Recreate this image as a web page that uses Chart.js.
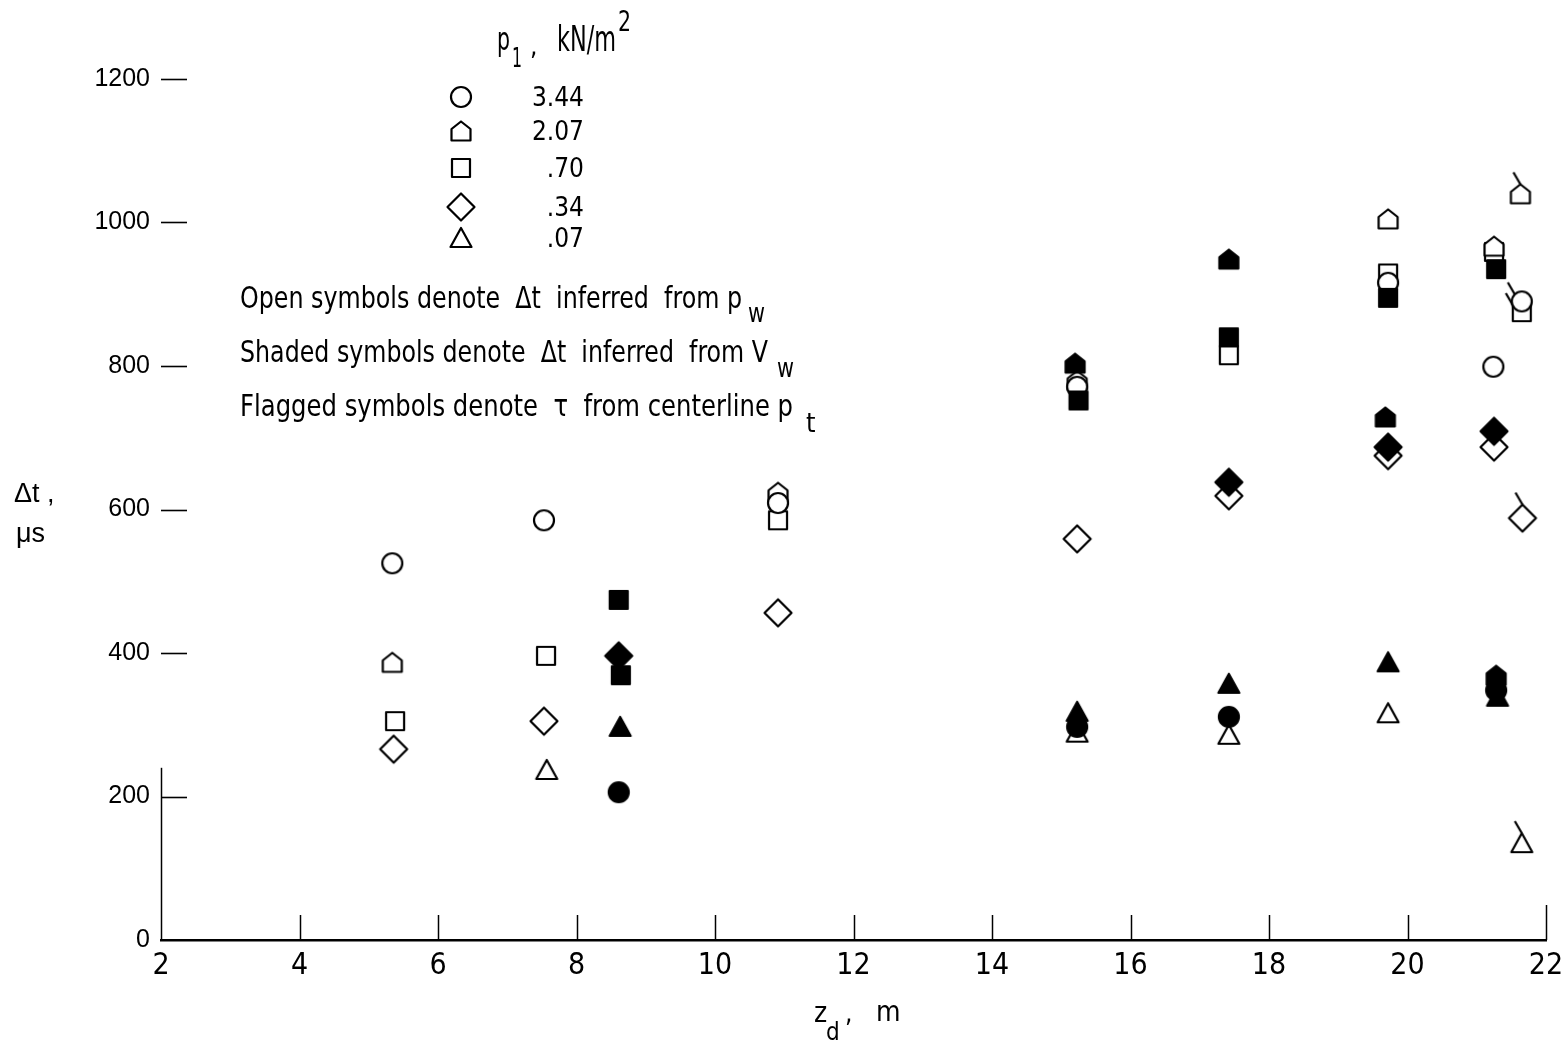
<!DOCTYPE html>
<html>
<head>
<meta charset="utf-8">
<script src="https://cdn.jsdelivr.net/npm/chart.js@4.4.0/dist/chart.umd.min.js"></script>
<style>
  html, body { margin: 0; padding: 0; background: #fff; overflow: hidden; }
  #wrap { width: 1562px; height: 1041px; position: relative; }
</style>
</head>
<body>
<div id="wrap"><canvas id="chart"></canvas></div>
<script>
// ── Data (z_d in m, Δt in μs) ────────────────────────────────────────────────
const yTicks = [0, 200, 400, 600, 800, 1000, 1200]
const xTicks = [2, 4, 6, 8, 10, 12, 14, 16, 18, 20, 22]
const pressures = ['3.44', '2.07', '.70', '.34', '.07']   // p1, kN/m²

// open symbols: Δt inferred from p_w
const openCircle   = [[5.34, 525], [7.53, 585], [10.91, 609], [15.23, 771], [19.72, 916], [21.24, 799]]
const openHouse    = [[5.34, 387], [10.91, 624], [15.23, 780], [19.72, 1005], [21.25, 967]]
const openSquare   = [[5.38, 305], [7.56, 396], [10.91, 585], [17.42, 815], [19.72, 929], [21.25, 959]]
const openDiamond  = [[5.36, 266], [7.53, 305], [10.91, 456], [15.23, 559], [17.42, 619], [19.72, 675], [21.25, 687]]
const openTriangle = [[7.57, 237], [15.23, 289], [17.42, 286], [19.72, 316]]

// shaded symbols: Δt inferred from V_w
const fillCircle   = [[8.61, 206], [15.23, 297], [17.42, 311], [21.28, 348]]
const fillHouse    = [[15.2, 804], [17.42, 949], [19.68, 729], [21.28, 369]]
const fillSquare   = [[8.61, 474], [8.64, 369], [15.25, 752], [17.42, 840], [19.72, 895], [21.28, 935]]
const fillDiamond  = [[8.61, 396], [17.42, 638], [19.72, 687], [21.25, 709]]
const fillTriangle = [[8.63, 297], [15.23, 318], [17.42, 357], [19.72, 387], [21.3, 339]]

// flagged symbols: τ from centerline p_t
const flagCircle   = [[21.65, 890]]
const flagHouse    = [[21.63, 1040]]
const flagSquare   = [[21.65, 875]]
const flagDiamond  = [[21.66, 588]]
const flagTriangle = [[21.65, 135]]

const NARROW = '"Liberation Sans Narrow", "DejaVu Sans Condensed", "Roboto Condensed", sans-serif'
const REGULAR = '"Liberation Sans", Arial, sans-serif'

// ── Symbol images ────────────────────────────────────────────────────────────

function makeSymbol(shape, filled, flagged) {
  const S = 60, c = S / 2
  const cv = document.createElement('canvas')
  cv.width = S; cv.height = S
  const g = cv.getContext('2d')
  g.lineWidth = 2.2
  g.lineJoin = 'round'
  g.strokeStyle = '#000'
  g.fillStyle = filled ? '#000' : '#fff'
  g.beginPath()
  let top
  if (shape === 'circle') {
    g.arc(c, c, 10, 0, Math.PI * 2); top = [c - 7, c - 7]
  } else if (shape === 'house') {
    g.moveTo(c - 9.5, c + 9.5); g.lineTo(c + 9.5, c + 9.5); g.lineTo(c + 9.5, c - 2)
    g.lineTo(c, c - 9.5); g.lineTo(c - 9.5, c - 2); g.closePath(); top = [c, c - 9.5]
  } else if (shape === 'square') {
    g.rect(c - 9, c - 9, 18, 18); top = [c - 9, c - 7]
  } else if (shape === 'diamond') {
    g.moveTo(c, c - 13.5); g.lineTo(c + 13.5, c); g.lineTo(c, c + 13.5); g.lineTo(c - 13.5, c)
    g.closePath(); top = [c, c - 13.5]
  } else {
    g.moveTo(c, c - 10); g.lineTo(c + 10.5, c + 9); g.lineTo(c - 10.5, c + 9); g.closePath()
    top = [c, c - 10]
  }
  g.fill()
  g.stroke()
  if (flagged) {
    g.beginPath(); g.moveTo(top[0], top[1]); g.lineTo(top[0] - 7, top[1] - 12); g.stroke()
  }
  return cv
}

function series(points, shape, filled, flagged) {
  return {
    data: points.map(([x, y]) => ({ x, y })),
    pointStyle: makeSymbol(shape, filled, flagged),
    pointRadius: 12,
    pointHoverRadius: 12,
    showLine: false,
    clip: false,
  }
}

// ── Text helpers ─────────────────────────────────────────────────────────────

// width: squeeze/stretch the run horizontally to the given width
function txt(g, s, x, y, size, opts = {}) {
  g.font = `${size}px ${opts.family || NARROW}`
  g.textAlign = opts.align || 'left'
  g.textBaseline = 'alphabetic'
  g.fillStyle = '#000'
  if (opts.width) {
    const w = g.measureText(s).width
    g.save(); g.translate(x, y); g.scale(opts.width / w, 1); g.fillText(s, 0, 0); g.restore()
  } else {
    g.fillText(s, x, y)
  }
}

const legendSymbols = ['circle', 'house', 'square', 'diamond', 'triangle'].map(s => makeSymbol(s, false, false))

const decor = {
  id: 'decor',
  afterDraw(chart) {
    const g = chart.ctx
    const xs = chart.scales.x, ys = chart.scales.y
    const left = chart.chartArea.left, bottom = chart.chartArea.bottom
    g.save()
    g.strokeStyle = '#000'

    // y tick dashes, drawn inside to the right of the axis
    g.lineWidth = 1.6
    for (const v of yTicks) {
      if (v === 0) continue
      const y = Math.round(ys.getPixelForValue(v)) + 0.5
      g.beginPath(); g.moveTo(left, y); g.lineTo(left + 26, y); g.stroke()
    }
    // short stub of the y axis line near the origin
    g.lineWidth = 1.5
    g.beginPath(); g.moveTo(left + 0.5, ys.getPixelForValue(0)); g.lineTo(left + 0.5, ys.getPixelForValue(240)); g.stroke()

    // x tick marks pointing up
    for (const v of xTicks) {
      if (v === 2) continue
      const x = Math.round(xs.getPixelForValue(v)) + 0.5
      const len = v === 22 ? 35 : 25
      g.beginPath(); g.moveTo(x, bottom); g.lineTo(x, bottom - len); g.stroke()
    }

    // legend header: p1, kN/m²
    txt(g, 'p', 497, 50, 32, { width: 13 })
    txt(g, '1', 512, 67, 27, { width: 10 })
    txt(g, ',', 530, 55, 26)
    txt(g, 'kN/m', 557, 51, 35, { width: 59 })
    txt(g, '2', 618, 31, 28, { width: 13 })

    // legend rows
    const rowY = [97, 131, 168, 207, 238]
    pressures.forEach((p, i) => {
      const sym = legendSymbols[i]
      g.drawImage(sym, 461 - sym.width / 2, rowY[i] - sym.height / 2)
      txt(g, p, 584, rowY[i] + 9, 26, { align: 'right' })
    })

    // notes
    txt(g, 'Open symbols denote  \u0394t  inferred  from p', 240, 308, 30, { width: 502 })
    txt(g, 'w', 748, 322, 27, { width: 17 })
    txt(g, 'Shaded symbols denote  \u0394t  inferred  from V', 240, 362, 30, { width: 528 })
    txt(g, 'w', 777, 377, 27, { width: 17 })
    txt(g, 'Flagged symbols denote  \u03c4  from centerline p', 240, 416, 30, { width: 553 })
    txt(g, 't', 806, 432, 27)

    // y axis title
    txt(g, '\u0394t ,', 14, 502, 27, { family: REGULAR })
    txt(g, '\u03bcs', 16, 542, 27, { family: REGULAR })

    // x axis title
    txt(g, 'z', 814, 1022, 28)
    txt(g, 'd', 826, 1040, 24)
    txt(g, ',', 845, 1022, 26)
    txt(g, 'm', 876, 1021, 28)

    g.restore()
  },
}

// ── Chart ────────────────────────────────────────────────────────────────────

new Chart(document.getElementById('chart'), {
  type: 'scatter',
  data: {
    datasets: [
      // first dataset is drawn on top, so shaded symbols go first
      series(fillCircle, 'circle', true, false),
      series(fillHouse, 'house', true, false),
      series(fillSquare, 'square', true, false),
      series(fillDiamond, 'diamond', true, false),
      series(fillTriangle, 'triangle', true, false),
      series(flagCircle, 'circle', false, true),
      series(flagHouse, 'house', false, true),
      series(flagSquare, 'square', false, true),
      series(flagDiamond, 'diamond', false, true),
      series(flagTriangle, 'triangle', false, true),
      series(openCircle, 'circle', false, false),
      series(openHouse, 'house', false, false),
      series(openSquare, 'square', false, false),
      series(openDiamond, 'diamond', false, false),
      series(openTriangle, 'triangle', false, false),
    ],
  },
  options: {
    responsive: true,
    maintainAspectRatio: false,
    animation: false,
    events: [],
    layout: { padding: { top: 79, right: 16, left: 0, bottom: 0 } },
    plugins: { legend: { display: false }, tooltip: { enabled: false } },
    scales: {
      x: {
        type: 'linear', min: 2, max: 22,
        afterFit: s => { s.height = 101; s.paddingLeft = 0; s.paddingRight = 0 },
        grid: { display: false, drawTicks: false },
        border: { display: true, color: '#000', width: 2.5 },
        ticks: {
          stepSize: 2, autoSkip: false, maxRotation: 0, padding: 8,
          color: '#000', font: { family: NARROW, size: 30 },
        },
      },
      y: {
        type: 'linear', min: 0, max: 1200,
        afterFit: s => { s.width = 161; s.paddingTop = 0; s.paddingBottom = 0 },
        grid: { display: false, drawTicks: false },
        border: { display: false },
        ticks: {
          stepSize: 200, autoSkip: false, padding: 11,
          color: '#000', font: { family: REGULAR, size: 25 },
          callback: v => String(v),
        },
      },
    },
  },
  plugins: [decor],
})
</script>
</body>
</html>
